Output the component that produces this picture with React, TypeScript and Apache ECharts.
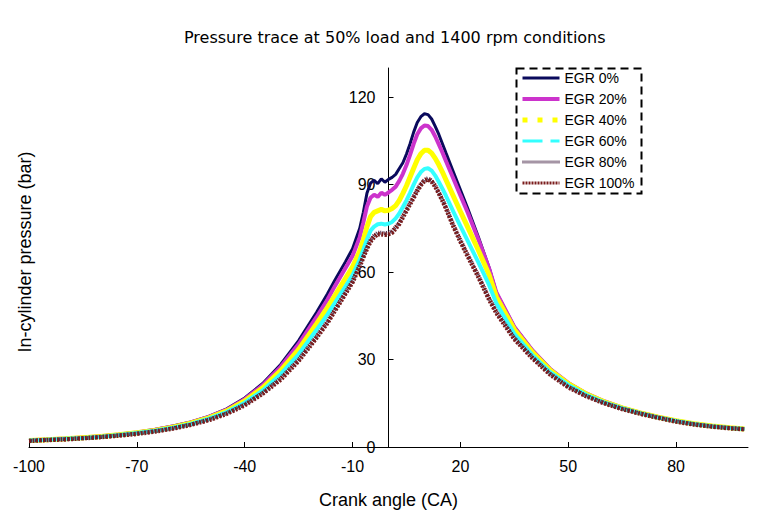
import React, { useEffect, useRef } from "react";
import * as echarts from "echarts";

const crankAngle = [
  -100, -95, -90, -85, -80, -75, -70, -65, -60, -55, -50, -45, -40, -35, -30, -25, -20, -17, -15, -12, -10, -8,
  -7, -6, -5, -4, -3, -2, -1, 0, 1, 2, 3, 4, 5, 6, 7, 8, 9, 10, 11, 12, 13, 14, 15, 16,
  18, 20, 22, 25, 28, 30, 35, 40, 45, 50, 55, 60, 65, 70, 75, 80, 85, 90, 95, 99,
];

const egr0 = [
  2.3, 2.6, 2.9, 3.3, 3.8, 4.4, 5.1, 6.0, 7.2, 8.6, 10.5, 13.1, 16.8, 21.8, 28.3, 36.5, 46.2, 52.5, 57, 63.5, 68, 75,
  80.5, 87, 90.5, 91.5, 90.3, 92, 90.8, 91.8, 92.5, 93.5, 95.5, 97.5, 100.5, 104, 108, 111.3, 113.3, 114.3, 114, 112.5, 110, 107.2, 104, 100.8,
  94.5, 88.2, 82, 72, 61.5, 53, 41.3, 33.3, 26.8, 22, 18.4, 15.7, 13.5, 11.8, 10.3, 9.0, 8.0, 7.2, 6.6, 6.2,
];
const egr20 = [
  2.3, 2.6, 2.9, 3.3, 3.7, 4.3, 5.0, 5.9, 7.0, 8.4, 10.3, 12.8, 16.4, 21.2, 27.5, 35.3, 44.6, 50.5, 55, 61.3, 65.5, 72,
  77, 82.5, 85.5, 86.5, 85.8, 87.2, 86.5, 87.3, 88.2, 89.3, 91.3, 93.7, 96.7, 100.2, 104, 107.3, 109.3, 110.3, 110.1, 108.8, 106.5, 103.8, 101, 98,
  92.2, 86.3, 80.5, 71.2, 61.2, 53, 41.2, 33.2, 26.7, 22, 18.4, 15.7, 13.5, 11.8, 10.3, 9.0, 8.0, 7.2, 6.6, 6.2,
];
const egr40 = [
  2.2, 2.5, 2.8, 3.2, 3.6, 4.2, 4.9, 5.7, 6.8, 8.2, 10, 12.4, 15.8, 20.3, 26.2, 33.5, 42.3, 47.8, 51.8, 57.8, 61.8, 67.2,
  71, 75.5, 79, 80.5, 81, 81.5, 81, 81.2, 81.8, 82.8, 84.6, 87, 89.6, 92.6, 95.6, 98.5, 100.6, 101.8, 101.8, 100.8, 99, 96.8, 94.3, 91.6,
  86.2, 80.8, 75.5, 67.5, 59, 51.5, 40.3, 32.6, 26.3, 21.7, 18.2, 15.5, 13.4, 11.7, 10.2, 9.0, 8.0, 7.2, 6.6, 6.2,
];
const egr60 = [
  2.2, 2.5, 2.8, 3.1, 3.5, 4.1, 4.8, 5.6, 6.6, 7.9, 9.7, 12, 15.2, 19.4, 25, 31.8, 40.2, 45.4, 49.3, 55, 59, 64.3,
  67.7, 71.2, 74.2, 75.6, 76.4, 76.6, 76.3, 76.6, 77.2, 78.4, 80.1, 82.3, 84.6, 87.2, 90, 92.5, 94.3, 95.4, 95.6, 94.8, 93.1, 90.9, 88.6, 86.1,
  80.8, 75.8, 70.8, 63.3, 55.5, 49.3, 38.8, 31.6, 25.7, 21.3, 17.9, 15.3, 13.3, 11.6, 10.1, 8.9, 7.9, 7.1, 6.5, 6.2,
];
const egr80 = [
  2.1, 2.4, 2.7, 3.0, 3.4, 4.0, 4.6, 5.4, 6.4, 7.7, 9.4, 11.6, 14.6, 18.6, 23.6, 30, 38, 43, 47, 53, 57, 62.5,
  65.5, 68.5, 71, 72.5, 73.5, 73.5, 73.3, 73.5, 74, 75.5, 77, 79.3, 81.5, 83.8, 86, 88.3, 90.2, 91.7, 92.2, 91.4, 89.7, 87.4, 84.9, 82.2,
  76.3, 71, 66, 58.8, 51, 46.4, 37.4, 30.8, 25.1, 20.7, 17.5, 15.1, 13.1, 11.5, 10.1, 8.8, 7.8, 7.0, 6.5, 6.1,
];
const egr100 = [
  2.1, 2.4, 2.6, 3.0, 3.4, 3.9, 4.5, 5.3, 6.3, 7.6, 9.2, 11.4, 14.3, 18.3, 23.1, 29.5, 37.5, 42.5, 46.5, 52.5, 56.5, 62,
  65, 68, 70.5, 72, 73, 73, 72.8, 73, 73.5, 75, 76.5, 78.8, 81, 83.3, 85.5, 87.8, 89.8, 91.3, 91.8, 91, 89.3, 87, 84.5, 81.8,
  75.8, 70.5, 65.5, 58.3, 50.5, 46, 37, 30.5, 24.8, 20.5, 17.4, 15, 13, 11.4, 10, 8.7, 7.7, 7.0, 6.4, 6.1,
];

const seriesNames = ["EGR 0%", "EGR 20%", "EGR 40%", "EGR 60%", "EGR 80%", "EGR 100%"];
const seriesValues = [egr0, egr20, egr40, egr60, egr80, egr100];

const plotStyles = [
  { color: "#0a0a5c", width: 3, type: "solid" },
  { color: "#cc33cc", width: 4, type: "solid" },
  { color: "#ffff00", width: 5, type: "solid" },
  { color: "#33ffff", width: 4, type: "solid" },
  { color: "#4a2a4a", width: 4, type: [1, 1] },
  { color: "#7a1c1c", width: 4.5, type: [2, 1.5] },
];
const legendStyles = [
  { color: "#0a0a5c", width: 3, type: "solid" },
  { color: "#cc33cc", width: 4, type: "solid" },
  { color: "#ffff00", width: 5, type: [5, 10] },
  { color: "#33ffff", width: 3, type: [20, 8] },
  { color: "#4a2a4a", width: 3, type: [1, 1] },
  { color: "#7a1c1c", width: 3, type: [2, 1] },
];

const FONT = "'Liberation Sans', Arial, sans-serif";
// plot geometry: x = -100 at 29 px, x = 100 at 748 px -> zero at 388.5 px
const Y_AXIS_OFFSET = -359.5;

export default function App() {
  const ref = useRef<HTMLDivElement>(null);
  useEffect(() => {
    if (!ref.current) return;
    const chart = echarts.init(ref.current, null, { renderer: "svg" });
    const series = seriesNames.map((name, i) => ({
      name,
      type: "line",
      data: crankAngle.map((x, j) => [x, seriesValues[i][j]]),
      showSymbol: false,
      symbol: "none",
      lineStyle: { color: plotStyles[i].color, width: plotStyles[i].width, type: plotStyles[i].type },
      itemStyle: { color: plotStyles[i].color },
      z: 2 + i,
    }));
    chart.setOption({
      animation: false,
      backgroundColor: "#ffffff",
      title: {
        text: "Pressure trace at 50% load and 1400 rpm conditions",
        left: 179,
        top: 24,
        textStyle: { fontFamily: "'DejaVu Sans', sans-serif", fontSize: 16, fontWeight: "normal", color: "#000" },
      },
      legend: {
        orient: "vertical",
        left: 520,
        top: 71,
        itemWidth: 37,
        itemHeight: 14,
        itemGap: 7,
        padding: 0,
        textStyle: { fontFamily: FONT, fontSize: 14, color: "#000" },
        data: seriesNames.map((name, i) => ({
          name,
          itemStyle: { opacity: 0 },
          lineStyle: { color: legendStyles[i].color, width: legendStyles[i].width, type: legendStyles[i].type },
        })),
      },
      grid: { left: 29, right: 10, top: 68, bottom: 63, containLabel: false, outerBoundsMode: "none" },
      xAxis: {
        type: "value",
        min: -100,
        max: 100,
        interval: 30,
        name: "Crank angle (CA)",
        nameLocation: "middle",
        nameGap: 44,
        nameTextStyle: { fontFamily: FONT, fontSize: 18, color: "#000" },
        axisLine: { show: true, onZero: false, lineStyle: { color: "#000", width: 1 } },
        axisTick: { show: true, inside: true, length: 5, lineStyle: { color: "#000" } },
        axisLabel: {
          fontFamily: FONT,
          fontSize: 16,
          color: "#000",
          margin: 11,
          showMaxLabel: false,
          formatter: (v: number) => ((v + 100) % 30 === 0 ? String(v) : ""),
        },
        splitLine: { show: false },
      },
      yAxis: {
        type: "value",
        min: 0,
        max: 130,
        interval: 30,
        offset: Y_AXIS_OFFSET,
        axisLine: { show: true, onZero: false, lineStyle: { color: "#000", width: 1 } },
        axisTick: { show: true, inside: true, length: 5, lineStyle: { color: "#000" } },
        axisLabel: {
          fontFamily: FONT,
          fontSize: 16,
          color: "#000",
          margin: 13,
          showMaxLabel: false,
          formatter: (v: number) => (v % 30 === 0 ? String(v) : ""),
        },
        splitLine: { show: false },
      },
      graphic: [
        {
          type: "rect",
          left: 514,
          top: 66,
          shape: { width: 125, height: 125 },
          style: { fill: "none", stroke: "#000", lineWidth: 2, lineDash: [8, 5] },
          z: 100,
        },
        {
          type: "text",
          x: 25,
          y: 252,
          rotation: Math.PI / 2,
          style: {
            text: "In-cylinder pressure (bar)",
            fontFamily: FONT,
            fontSize: 18,
            fill: "#000",
            align: "center",
            verticalAlign: "middle",
          },
        },
      ],
      series,
    });
    return () => chart.dispose();
  }, []);
  return <div ref={ref} style={{ position: "fixed", left: 0, top: 0, width: 758, height: 510, background: "#fff" }} />;
}
